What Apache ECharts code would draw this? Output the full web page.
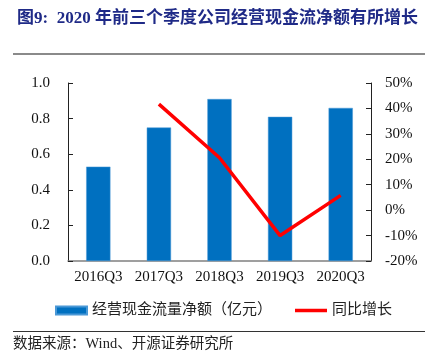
<!DOCTYPE html>
<html><head><meta charset="utf-8">
<script src="https://cdn.jsdelivr.net/npm/echarts@6/dist/echarts.min.js"></script>
<style>html,body{margin:0;padding:0;background:#fff}#c{width:430px;height:360px}</style>
</head><body><div id="c"></div>
<script>
const categories = ['2016Q3','2017Q3','2018Q3','2019Q3','2020Q3'];
const cashFlow = [0.53, 0.75, 0.91, 0.81, 0.86];
const yoyGrowth = ['-', 41.7, 20.6, -10.0, 5.8];
const leftTicks = {min: 0, max: 1, interval: 0.2};
const rightTicks = {min: -20, max: 50, interval: 10};
const titleText = '图9:  2020 年前三个季度公司经营现金流净额有所增长';
const sourceText = '数据来源：Wind、开源证券研究所';
const barName = '经营现金流量净额（亿元）';
const lineName = '同比增长';

const serif = '"Liberation Serif", "Noto Sans CJK SC", serif';
const chart = echarts.init(document.getElementById('c'), null, {renderer: 'canvas'});
chart.setOption({
  animation: false,
  title: {
    text: titleText, left: 12, top: 5,
    textStyle: {fontSize: 17, fontWeight: 'bold', color: '#1f2a87', fontFamily: serif}
  },
  graphic: [
    {type: 'line', shape: {x1: 13, y1: 54, x2: 425, y2: 54}, style: {stroke: '#8a8a8a', lineWidth: 2}},
    {type: 'line', shape: {x1: 13, y1: 331.5, x2: 425, y2: 331.5}, style: {stroke: '#333', lineWidth: 1}},
    {type: 'text', left: 13, top: 337, style: {text: sourceText, fontSize: 14.5, fill: '#222', fontFamily: serif}}
  ],
  grid: {left: 68, right: 59, top: 83, bottom: 99},
  legend: [
    {
      left: 50, top: 298, itemWidth: 31, itemHeight: 8,
      textStyle: {fontSize: 15, color: '#222', fontFamily: serif},
      data: [{name: barName, icon: 'rect'}]
    },
    {
      left: 290, top: 298, itemWidth: 32, itemHeight: 3.5,
      textStyle: {fontSize: 15, color: '#222', fontFamily: serif},
      data: [{name: lineName, icon: 'rect'}]
    }
  ],
  xAxis: {
    type: 'category', data: categories,
    axisLine: {lineStyle: {color: '#808080', width: 1.5}},
    axisTick: {inside: true, length: 5, lineStyle: {color: '#808080'}},
    axisLabel: {fontSize: 15, color: '#111', fontFamily: serif, margin: 9, interval: 0}
  },
  yAxis: [
    {
      type: 'value', min: leftTicks.min, max: leftTicks.max, interval: leftTicks.interval,
      splitLine: {show: false},
      axisLine: {show: true, lineStyle: {color: '#222'}},
      axisTick: {show: true, inside: true, length: 5, lineStyle: {color: '#222'}},
      axisLabel: {fontSize: 15, color: '#111', fontFamily: serif, margin: 18,
        formatter: v => v.toFixed(1)}
    },
    {
      type: 'value', min: rightTicks.min, max: rightTicks.max, interval: rightTicks.interval,
      position: 'right', splitLine: {show: false},
      axisLine: {show: true, lineStyle: {color: '#222'}},
      axisTick: {show: true, inside: true, length: 5, lineStyle: {color: '#222'}},
      axisLabel: {fontSize: 15, color: '#111', fontFamily: serif, margin: 14,
        formatter: '{value}%'}
    }
  ],
  series: [
    {
      name: barName, type: 'bar', data: cashFlow, barWidth: '40%', yAxisIndex: 0,
      itemStyle: {color: '#0070C0', borderColor: '#4a98d6', borderWidth: 0.5}
    },
    {
      name: lineName, type: 'line', data: yoyGrowth, yAxisIndex: 1,
      symbol: 'none', lineStyle: {color: '#FF0000', width: 3.5}, itemStyle: {color: '#FF0000'}
    }
  ]
});
</script></body></html>
